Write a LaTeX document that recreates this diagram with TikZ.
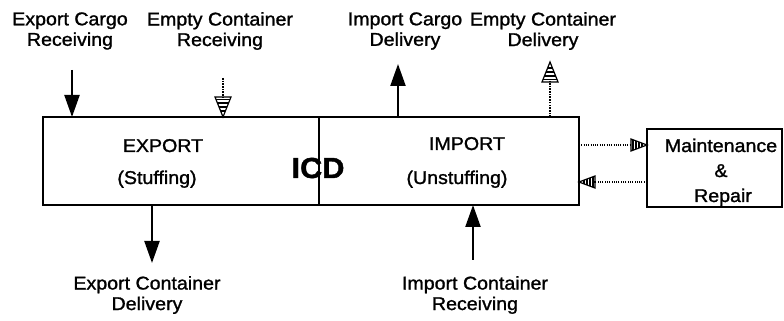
\documentclass[tikz,border=0pt]{standalone}
\usepackage{fontspec}
\setmainfont{Liberation Sans}[FakeStretch=1.06, FakeBold=1.3]
\usetikzlibrary{arrows.meta}

\tikzset{
  x=1pt, y=1pt,
  every node/.style={font=\fontsize{18.5}{20.5}\selectfont, inner sep=0pt, outer sep=0pt},
  block/.style={draw, line width=2pt, rectangle},
  lbl/.style={align=center},
  txt/.style={anchor=base},
  flow/.style={line width=2.2pt, -{Triangle[width=15pt,length=22pt]}},
  hatched/.style={line width=1.6pt, dash pattern=on 1.6pt off 1.1pt, shorten >=19pt},
  dotline/.style={line width=1.3pt, dash pattern=on 1pt off 1.3pt, shorten >=15pt},
  % arrow head drawn as an outlined triangle with cross stripes; tip at the origin, pointing along +x
  pics/hatchhead/.style n args={2}{code={
    \draw[line width=1.2pt, line join=miter] (0,0) -- (-#1,#2) -- (-#1,-#2) -- cycle;
    \foreach \t in {0.3,0.5,0.7,0.88}
      \draw[line width=1.6pt] (-#1*\t,#2*\t) -- (-#1*\t,-#2*\t);
  }}
}

\begin{document}
\begin{tikzpicture}
\useasboundingbox (0,0) rectangle (784,321);

% central label, drawn first so the divider runs over it
\node[font=\fontsize{29}{30}\bfseries, txt] (icd) at (318,143) {ICD};

% boxes
\node[block, minimum width=276, minimum height=88] (exp) at (181,160) {};
\node[block, minimum width=260, minimum height=88] (imp) at (449,160) {};
\node[block, minimum width=135, minimum height=78] (mr) at (714.5,153) {};

% box texts
\node[txt] (expt) at (163,169) {EXPORT};
\node[txt] (exps) at (157,137) {(Stuffing)};
\node[txt] (impt) at (467,171) {IMPORT};
\node[txt] (imps) at (457,137) {(Unstuffing)};
\node[txt] (mr1) at (721,169) {Maintenance};
\node[txt] (mr2) at (721,144) {\&};
\node[txt] (mr3) at (723,119) {Repair};

% outer labels
\node[lbl] (l1) at (70,290) {Export Cargo\\Receiving};
\node[lbl] (l2) at (220,290) {Empty Container\\Receiving};
\node[lbl] (l3) at (405,290) {Import Cargo\\Delivery};
\node[lbl] (l4) at (543,290) {Empty Container\\Delivery};
\node[lbl] (l5) at (147,26) {Export Container\\Delivery};
\node[lbl] (l6) at (475,26) {Import Container\\Receiving};

% free ends of the flows
\coordinate (a1) at (72,251);
\coordinate (a2) at (223,243);
\coordinate (a3) at (398,257);
\coordinate (a4) at (550,259);
\coordinate (a5) at (152,58);
\coordinate (a6) at (473,61);
\coordinate (hy1) at (0,176);
\coordinate (hy2) at (0,139);

% solid flows
\draw[flow] (a1) -- (a1 |- exp.north);
\draw[flow] (a3 |- imp.north) -- (a3);
\draw[flow] (exp.south -| a5) -- (a5);
\draw[flow] (a6) -- (a6 |- imp.south);

% empty container flows
\draw[hatched] (a2) -- (a2 |- exp.north);
\pic[rotate=-90] at (a2 |- exp.north) {hatchhead={20}{8}};
\draw[hatched] (a4 |- imp.north) -- (a4);
\pic[rotate=90] at (a4) {hatchhead={20}{8}};

% maintenance links
\draw[dotline] (imp.east |- hy1) -- (mr.west |- hy1);
\pic at (mr.west |- hy1) {hatchhead={16}{6}};
\draw[dotline] (mr.west |- hy2) -- (imp.east |- hy2);
\pic[rotate=180] at (imp.east |- hy2) {hatchhead={16}{6}};
\end{tikzpicture}
\end{document}
